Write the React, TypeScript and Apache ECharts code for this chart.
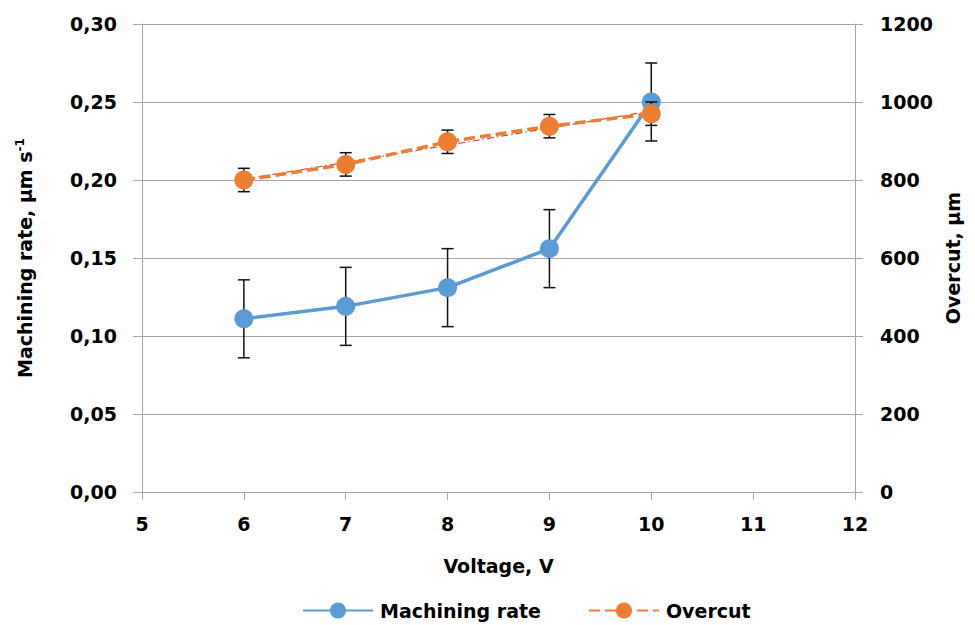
import React, { useEffect, useRef } from "react";
import * as echarts from "echarts";

const voltage = [6, 7, 8, 9, 10];
const machiningRate = [0.111, 0.119, 0.131, 0.156, 0.25];
const machiningErr = [0.025, 0.025, 0.025, 0.025, 0.025];
const overcut = [800, 840, 898, 938, 970];
const overcutErr = [30, 30, 30, 30, 30];
const leftTicks = { min: 0, max: 0.3, interval: 0.05 };
const rightTicks = { min: 0, max: 1200, interval: 200 };
const xTicks = { min: 5, max: 12, interval: 1 };

const FONT = "DejaVu Sans";
const AXIS = "#A6A6A6";
const BLUE = "#5B9BD5";
const ORANGE = "#ED7D31";

function linearFit(xs: number[], ys: number[]) {
  const n = xs.length;
  const mx = xs.reduce((a, b) => a + b, 0) / n;
  const my = ys.reduce((a, b) => a + b, 0) / n;
  let sxy = 0, sxx = 0;
  for (let i = 0; i < n; i++) {
    sxy += (xs[i] - mx) * (ys[i] - my);
    sxx += (xs[i] - mx) * (xs[i] - mx);
  }
  const b = sxy / sxx;
  const a = my - b * mx;
  return (x: number) => a + b * x;
}

function errorSeries(vals: number[], errs: number[], yAxisIndex: number, z: number) {
  return {
    type: "custom",
    yAxisIndex,
    z,
    silent: true,
    data: voltage.map((x, i) => [x, vals[i], vals[i] - errs[i], vals[i] + errs[i]]),
    encode: { x: 0, y: [2, 3] },
    renderItem: (params: any, api: any) => {
      const x = api.value(0);
      const lo = api.coord([x, api.value(2)]);
      const hi = api.coord([x, api.value(3)]);
      const hw = 6;
      const style = { stroke: "#111", lineWidth: 1.5 };
      return {
        type: "group",
        children: [
          { type: "line", shape: { x1: hi[0], y1: hi[1], x2: lo[0], y2: lo[1] }, style },
          { type: "line", shape: { x1: hi[0] - hw, y1: hi[1], x2: hi[0] + hw, y2: hi[1] }, style },
          { type: "line", shape: { x1: lo[0] - hw, y1: lo[1], x2: lo[0] + hw, y2: lo[1] }, style },
        ],
      };
    },
  };
}

export default function App() {
  const ref = useRef<HTMLDivElement>(null);
  useEffect(() => {
    if (!ref.current) return;
    const chart = echarts.init(ref.current, undefined, { renderer: "svg" });
    const fit = linearFit(voltage, overcut);
    const x0 = voltage[0];
    const x1 = voltage[voltage.length - 1];
    const textBase = { fontFamily: FONT, fontWeight: "bold" as const, fontSize: 19, color: "#000" };
    chart.setOption({
      animation: false,
      backgroundColor: "#fff",
      grid: { left: 142, right: 120, top: 24, bottom: 133, containLabel: false },
      legend: {
        bottom: 0,
        left: 297,
        itemWidth: 70,
        itemHeight: 20,
        itemGap: 47,
        data: ["Machining rate", "Overcut"],
        textStyle: { ...textBase, padding: [0, 0, 0, 2] },
      },
      xAxis: {
        type: "value",
        ...xTicks,
        name: "Voltage, V",
        nameLocation: "middle",
        nameGap: 64,
        nameTextStyle: { ...textBase },
        axisLine: { show: true, onZero: false, lineStyle: { color: AXIS, width: 1 } },
        axisTick: { show: true, inside: false, length: 8, lineStyle: { color: AXIS } },
        axisLabel: { ...textBase, margin: 22 },
        splitLine: { show: false },
      },
      yAxis: [
        {
          type: "value",
          ...leftTicks,
          position: "left",
          name: "Machining rate, µm s{sup|-1}",
          nameLocation: "middle",
          nameRotate: 90,
          nameGap: 106,
          nameTextStyle: {
            ...textBase,
            rich: {
              sup: { fontFamily: FONT, fontWeight: "bold", fontSize: 12, color: "#000", verticalAlign: "top", padding: [0, 0, 10, 0] },
            },
          },
          axisLine: { show: true, lineStyle: { color: AXIS, width: 1 } },
          axisTick: { show: true, inside: false, length: 9, lineStyle: { color: AXIS } },
          axisLabel: { ...textBase, margin: 25, formatter: (v: number) => v.toFixed(2).replace(".", ",") },
          splitLine: { show: true, lineStyle: { color: AXIS, width: 1 } },
        },
        {
          type: "value",
          ...rightTicks,
          position: "right",
          name: "Overcut, µm",
          nameLocation: "middle",
          nameRotate: 90,
          nameGap: 88,
          nameTextStyle: { ...textBase },
          axisLine: { show: true, lineStyle: { color: AXIS, width: 1 } },
          axisTick: { show: true, inside: false, length: 8, lineStyle: { color: AXIS } },
          axisLabel: { ...textBase, margin: 25, formatter: (v: number) => String(v) },
          splitLine: { show: false },
        },
      ],
      series: [
        errorSeries(machiningRate, machiningErr, 0, 1),
        {
          name: "Machining rate",
          type: "line",
          yAxisIndex: 0,
          z: 2,
          data: voltage.map((x, i) => [x, machiningRate[i]]),
          symbol: "circle",
          symbolSize: 19,
          itemStyle: { color: BLUE },
          lineStyle: { color: BLUE, width: 3.5 },
        },
        errorSeries(overcut, overcutErr, 1, 3),
        {
          name: "Trend",
          type: "line",
          yAxisIndex: 1,
          z: 3,
          silent: true,
          data: [[x0, fit(x0)], [x1, fit(x1)]],
          symbol: "none",
          lineStyle: { color: "#C0504D", width: 1.2, type: [7, 3, 1.5, 3] },
        },
        {
          name: "Overcut",
          type: "line",
          yAxisIndex: 1,
          z: 4,
          data: voltage.map((x, i) => [x, overcut[i]]),
          symbol: "circle",
          symbolSize: 19,
          itemStyle: { color: ORANGE },
          lineStyle: { color: ORANGE, width: 3.5, type: [11, 5] },
        },
      ],
    });
    return () => chart.dispose();
  }, []);
  return <div ref={ref} style={{ position: "absolute", left: 0, top: 0, width: 975, height: 625 }} />;
}
